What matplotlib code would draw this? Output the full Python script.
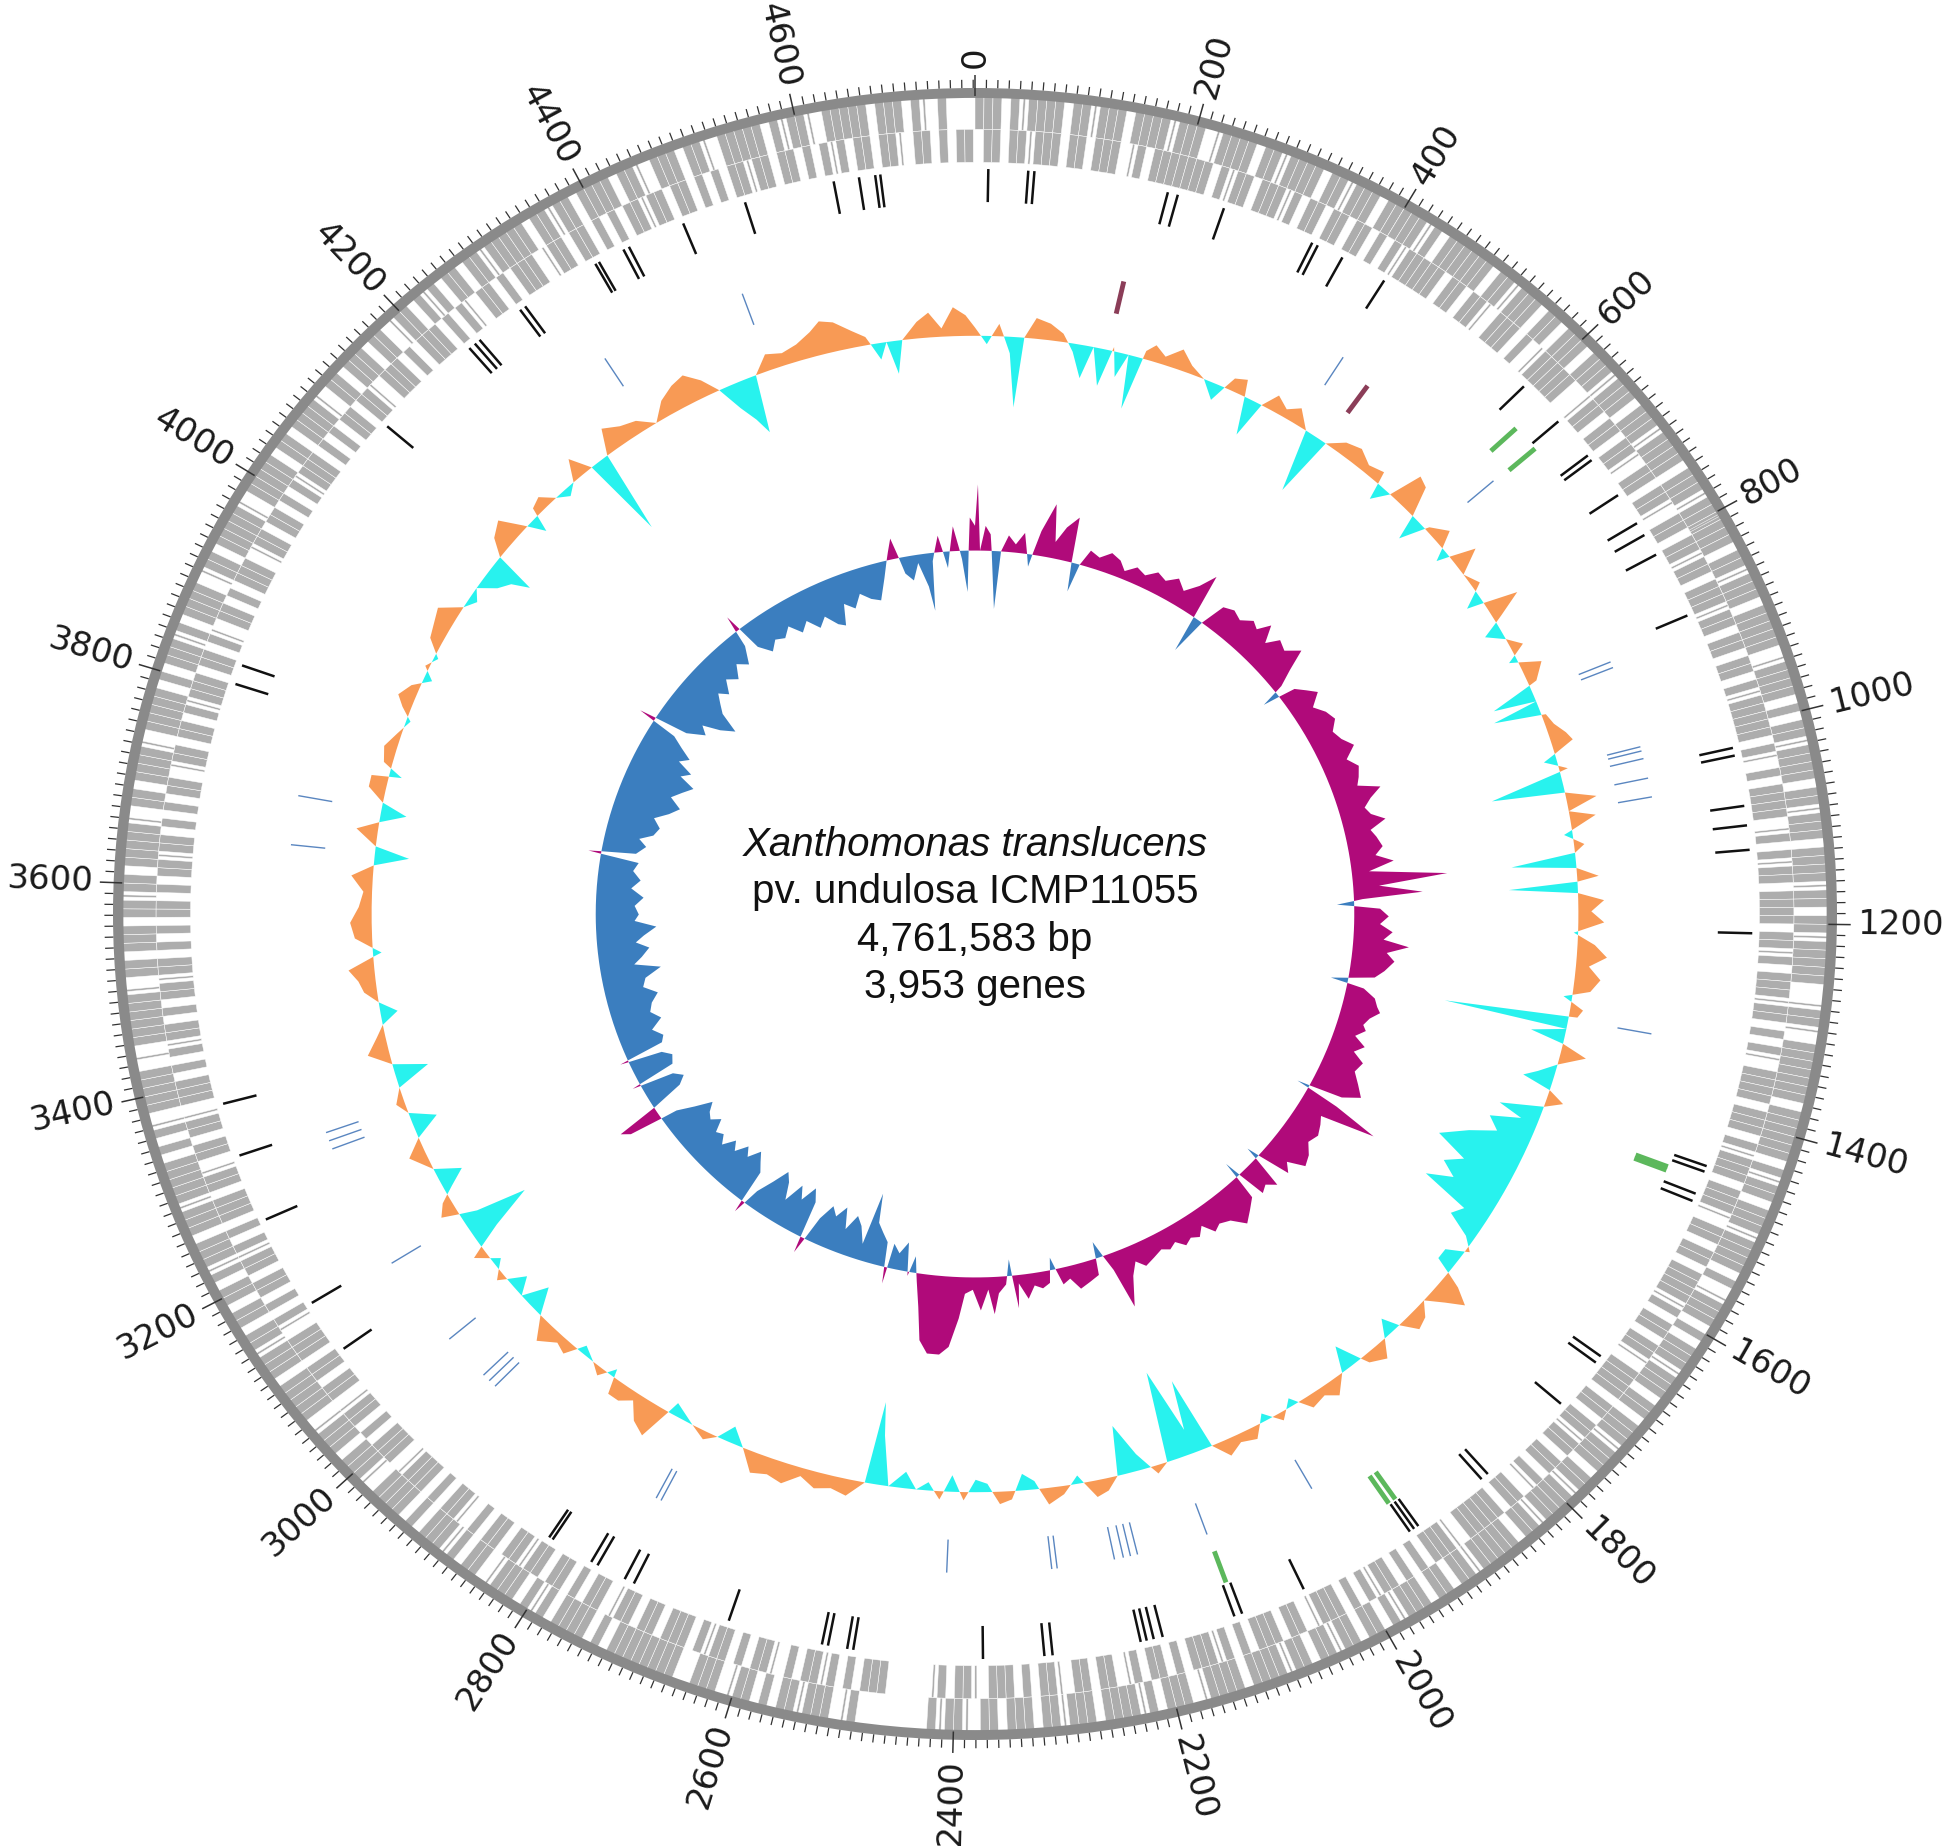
#!/usr/bin/env python3
"""Circular genome map of Xanthomonas translucens pv. undulosa ICMP11055."""
import numpy as np
import matplotlib
matplotlib.use("Agg")
import matplotlib.pyplot as plt
from matplotlib.patches import Wedge
from matplotlib.collections import PatchCollection, LineCollection

GENOME_KB = 4761.583

# ---- data (positions in kb) ----
label_kb = list(range(0, 4601, 200))

# CDS occupancy, one char per 8 kb cell, one string per 200 kb
# '#' gene block, '|' thin gene, '.' empty
cds_outer = [
    "###.# |####. ##|## #.### #|###",
    "..|## ##.## |####. ##|## #.###",
    "###|# .#### ##.## |###. ##.##",
    "#.### |###.# ##|## ##.## #|###",
    "|###. ##|## #.### ##.|# ###.#",
    ".##|# ###.# #|### .#### |##.#",
    "#|### ##..| ##|.# ##### #.###",
    "###.# |##.# ##|## ##.#. |###.",
    "#.### |###. ##.## #|### .##|#",
    "###|# #.### ##|## .##.# ##|#.",
    "##.## |##.# #|### #.### #|.##",
    "#.#|# ###.# ##|## .###. ##.|#",
    "#|#.. ..... .#|.# ##|## .#.##",
    "|.### ..### ##### .#.## ##.#|",
    "#.### |.##. #|### .#.## ##.|#",
    "##.## #|.## ###.# ##|## .##.#",
    "#.#|# ##.## #|### ##.#. #|.##",
    "###.| .#### ##|.# #.### .##|#",
    "#.### ##|.# #.### #|.## ###.#",
    ".###| #.### #.|## .#### #|.##",
    "###.# #.### #|.## .###. ##.|#",
    "#.#|# .##.# #|### ##.## |##.#",
    "###.# #|.## #.##| .#### #.#|#",
    "#|.## ###.# ##.#| .#",
]
cds_inner = [
    ".##.# #|### .##.# ##.|# .####",
    "###.# |##.# ##|#. ##.## .##.#",
    ".#|## ###.# #.##| .###. #.|##",
    "###.. |##.# #.##| .##.# #|.##",
    ".##|# #.### |##.# #.##. #|###",
    "##.#| .#.## ##.|# .#|## .####",
    ".##|# .###| ##.#. #|.## ##.##",
    "#.#|# ##.## #|.## .##.# ###|#",
    ".##.# #|.## ##.## .##|# #.##.",
    "#|.## .#### #.|## #.#.# .##|#",
    ".#.## #|.## .###. #.#|# ##.#.",
    "##.#| .##.# #.|## .#.## #.|##",
    ".#|.. ...## #.#.# |##.# .|##.",
    "#.##| #.### .##.# #|.## .#.##",
    ".##|# #.##. #.|## .#.## #|.##",
    "#.#.# #|.## .##.# ##.|# .#.##",
    ".##|# .#.## #.##| .##.# #|.##",
    "#.#.# |##.# .##|# #.#.# .##.#",
    ".##|# #.#.# .##.| ##.## .#|##",
    "#.##. #|.## .#.## #.|## .##.#",
    ".#|## #.#.# .##.# #|.## #.#.#",
    "##.#. #|.## .#.## #.|## .##.#",
    ".#.## |##.# #.#.# .##|# #.##.",
    "#.#|# .##.# #|.## .#.##",
]

black_kb = [13, 52, 58, 190, 200, 247, 340, 346, 373, 420, 594, 643, 688, 694,
            738, 772, 786, 809, 878, 1020, 1028, 1080, 1100, 1125, 1210, 1452,
            1458, 1482, 1490, 1672, 1680, 1734, 1835, 1843, 1921, 1926, 1931,
            2050, 2115, 2123, 2196, 2205, 2212, 2218, 2305, 2313, 2373, 2500,
            2506, 2525, 2531, 2625, 2725, 2735, 2765, 2772, 2816, 2820, 3099,
            3155, 3251, 3321, 3376, 3809, 3829, 4112, 4225, 4232, 4238, 4288,
            4294, 4375, 4379, 4406, 4412, 4470, 4534, 4623, 4648, 4664, 4669]
blue_kb = [428, 647, 893, 900, 996, 1001, 1010, 1033, 1055, 1329, 1993, 2120,
           2200, 2208, 2216, 2226, 2290, 2296, 2412, 2740, 2746, 2966, 2975,
           2984, 3040, 3148, 3295, 3305, 3315, 3651, 3708, 4331, 4500]
green_kb = [620, 649, 1466, 1470, 1924, 1932, 2119]
maroon_kb = [168, 469]

# GC content deviation (kb, deviation in radius units)
gc_content = [
    (0, 0.01), (15, -0.01), (30, 0.015), (45, -0.02), (55, -0.085), (62, 0.0),
    (75, 0.025), (93, 0.02), (110, 0.01), (125, -0.01), (140, -0.04), (150, 0.0),
    (165, -0.045), (175, 0.005), (185, -0.03), (195, 0.0), (205, -0.065),
    (215, 0.01), (225, 0.02), (240, 0.01), (258, 0.025), (275, 0.01), (295, 0.0),
    (314, -0.02), (330, 0.015), (345, 0.02), (365, -0.045), (375, 0.0),
    (388, 0.02), (405, 0.01), (420, 0.02), (440, 0.0), (460, -0.075), (470, 0.0),
    (490, 0.015), (510, 0.02), (530, 0.01), (550, 0.015), (560, -0.02),
    (575, 0.0), (586, 0.04), (600, 0.035), (615, 0.0), (625, -0.03), (640, 0.005),
    (660, 0.02), (680, -0.015), (697, 0.03), (715, 0.0), (735, 0.01),
    (755, -0.02), (770, 0.04), (785, 0.01), (800, -0.02), (815, 0.0),
    (830, 0.015), (845, -0.01), (860, 0.025), (880, 0.01), (897, -0.05),
    (905, 0.0), (913, -0.055), (925, 0.005), (940, 0.01), (955, 0.02),
    (966, 0.025), (985, -0.015), (1000, 0.01), (1021, -0.085), (1030, 0.0),
    (1042, 0.035), (1055, 0.0), (1065, 0.03), (1085, -0.01), (1100, 0.012),
    (1110, 0.0), (1122, -0.075), (1130, 0.0), (1142, 0.025), (1148, 0.0),
    (1155, -0.08), (1163, 0.0), (1173, 0.03), (1187, 0.015), (1201, 0.03),
    (1215, -0.005), (1230, 0.02), (1245, 0.035), (1258, 0.015), (1274, 0.03),
    (1290, 0.02), (1300, -0.01), (1315, 0.015), (1325, 0.01), (1334, -0.145),
    (1342, 0.0), (1352, -0.04), (1362, 0.0), (1374, 0.03), (1390, 0.0),
    (1405, -0.02), (1415, -0.035), (1425, 0.0), (1437, 0.02), (1448, 0.0),
    (1462, -0.05), (1472, -0.02), (1484, -0.055), (1500, -0.04), (1515, -0.07),
    (1537, -0.1), (1555, -0.06), (1570, -0.08), (1585, -0.06), (1600, -0.09),
    (1615, -0.03), (1630, -0.04), (1645, -0.01), (1660, 0.005), (1675, -0.02),
    (1690, -0.02), (1705, 0.02), (1717, 0.04), (1730, 0.02), (1745, 0.0),
    (1760, 0.015), (1776, 0.02), (1790, 0.0), (1800, -0.02), (1815, 0.0),
    (1830, 0.02), (1850, 0.01), (1870, -0.03), (1885, 0.0), (1905, 0.02),
    (1920, 0.01), (1940, 0.015), (1960, -0.01), (1980, 0.01), (2000, -0.01),
    (2020, 0.015), (2040, 0.01), (2058, 0.02), (2075, 0.0), (2090, -0.09),
    (2100, -0.03), (2120, -0.11), (2135, 0.0), (2150, 0.01), (2170, -0.02),
    (2190, -0.06), (2200, 0.0), (2215, 0.015), (2230, 0.02), (2250, -0.01),
    (2270, 0.01), (2290, 0.02), (2305, -0.01), (2320, -0.02), (2335, 0.01),
    (2350, 0.015), (2365, -0.01), (2380, -0.015), (2395, 0.01), (2410, -0.02),
    (2425, 0.01), (2440, -0.01), (2455, 0.0), (2470, -0.02), (2490, 0.0),
    (2505, -0.06), (2512, -0.10), (2520, 0.0), (2540, 0.02), (2560, 0.015),
    (2580, 0.02), (2600, 0.01), (2620, 0.025), (2640, 0.02), (2660, 0.025),
    (2680, 0.0), (2700, -0.02), (2715, 0.0), (2730, 0.01), (2750, 0.0),
    (2780, -0.015), (2797, 0.04), (2815, 0.03), (2830, 0.01), (2845, 0.02),
    (2860, 0.02), (2870, -0.01), (2885, 0.01), (2900, 0.0), (2920, -0.01),
    (2935, 0.015), (2950, 0.01), (2970, 0.025), (2990, 0.0), (3010, -0.03),
    (3025, 0.0), (3040, -0.02), (3060, 0.01), (3080, -0.01), (3100, 0.015),
    (3120, -0.03), (3140, -0.08), (3150, -0.02), (3165, 0.02), (3180, 0.01),
    (3195, -0.01), (3210, -0.03), (3225, 0.0), (3250, 0.02), (3270, 0.0),
    (3290, -0.03), (3305, 0.0), (3320, 0.01), (3340, 0.0), (3360, -0.04),
    (3372, 0.0), (3390, 0.025), (3410, 0.01), (3425, 0.0), (3440, -0.02),
    (3455, 0.0), (3470, 0.015), (3485, 0.02), (3500, 0.03), (3520, -0.01),
    (3540, 0.02), (3560, 0.025), (3580, 0.015), (3600, 0.01), (3620, 0.025),
    (3635, 0.0), (3648, -0.04), (3660, 0.0), (3680, 0.025), (3692, 0.0),
    (3705, -0.03), (3718, 0.0), (3735, 0.02), (3750, 0.02), (3755, -0.015),
    (3770, 0.01), (3790, 0.015), (3810, 0.005), (3830, -0.005), (3845, 0.01),
    (3858, 0.02), (3875, 0.01), (3890, -0.01), (3905, 0.005), (3920, -0.005),
    (3940, 0.015), (3960, 0.02), (3978, 0.025), (3995, 0.0), (4010, -0.01),
    (4025, 0.0), (4040, -0.02), (4055, -0.03), (4066, -0.05), (4075, 0.0),
    (4090, 0.02), (4110, 0.03), (4125, 0.005), (4140, -0.02), (4150, 0.01),
    (4165, 0.015), (4180, 0.0), (4195, -0.01), (4210, 0.0), (4225, 0.025),
    (4240, 0.0), (4250, -0.10), (4265, 0.0), (4280, 0.03), (4300, 0.02),
    (4320, 0.015), (4340, 0.0), (4360, 0.02), (4380, 0.03), (4398, 0.035),
    (4415, 0.02), (4430, 0.0), (4445, -0.03), (4458, -0.05), (4468, -0.07),
    (4480, 0.0), (4500, 0.02), (4520, 0.015), (4540, 0.02), (4560, 0.03),
    (4574, 0.04), (4590, 0.035), (4610, 0.02), (4625, 0.01), (4640, -0.02),
    (4650, 0.0), (4660, -0.04), (4670, 0.0), (4690, 0.02), (4705, 0.03),
    (4720, 0.01), (4735, 0.035), (4750, 0.025),
]

# GC skew (kb, skew in radius units)
gc_skew = [
    (0, 0.03), (5, 0.08), (10, 0.0), (20, 0.03), (30, 0.02), (45, -0.07),
    (52, 0.0), (65, 0.02), (80, 0.01), (95, 0.025), (110, -0.015), (125, 0.03),
    (143, 0.065), (155, 0.02), (170, 0.04), (188, 0.055), (195, 0.0),
    (203, -0.035), (212, 0.0), (225, 0.02), (245, 0.015), (265, 0.025),
    (285, 0.02), (300, 0.01), (320, 0.02), (340, 0.015), (360, 0.025),
    (380, 0.02), (400, 0.03), (420, 0.02), (440, 0.035), (456, 0.055),
    (466, 0.0), (476, -0.045), (486, 0.0), (500, 0.03), (520, 0.035),
    (540, 0.03), (560, 0.04), (575, 0.035), (589, 0.05), (605, 0.03),
    (620, 0.045), (640, 0.04), (660, 0.055), (675, 0.03), (690, 0.01),
    (700, -0.02), (710, 0.02), (725, 0.03), (740, 0.04), (760, 0.025),
    (780, 0.035), (800, 0.04), (820, 0.03), (840, 0.035), (860, 0.045),
    (880, 0.03), (900, 0.04), (920, 0.035), (935, 0.03), (950, 0.055),
    (965, 0.04), (980, 0.03), (995, 0.035), (1010, 0.05), (1025, 0.03),
    (1040, 0.035), (1060, 0.04), (1075, 0.03), (1090, 0.05), (1105, 0.02),
    (1122, 0.11), (1135, 0.03), (1151, 0.08), (1160, 0.01), (1170, -0.02),
    (1180, 0.03), (1195, 0.04), (1210, 0.03), (1225, 0.045), (1240, 0.035),
    (1251, 0.065), (1265, 0.04), (1280, 0.05), (1300, 0.04), (1315, 0.03),
    (1330, -0.02), (1340, 0.02), (1355, 0.035), (1370, 0.04), (1380, 0.045),
    (1395, 0.035), (1410, 0.03), (1420, 0.035), (1435, 0.025), (1450, 0.04),
    (1465, 0.03), (1480, 0.045), (1500, 0.04), (1520, 0.05), (1540, 0.06),
    (1555, 0.04), (1565, -0.015), (1575, 0.04), (1590, 0.095), (1605, 0.03),
    (1620, 0.035), (1640, 0.04), (1660, 0.035), (1680, 0.045), (1700, 0.05),
    (1715, 0.03), (1730, 0.04), (1745, -0.015), (1760, 0.04), (1775, 0.03),
    (1790, 0.035), (1800, -0.02), (1810, 0.03), (1830, 0.04), (1850, 0.05),
    (1870, 0.035), (1890, 0.03), (1905, 0.035), (1920, 0.02), (1935, 0.03),
    (1950, 0.025), (1965, 0.03), (1980, 0.02), (1995, 0.025), (2010, 0.02),
    (2030, 0.025), (2050, 0.03), (2065, 0.02), (2080, 0.035), (2099, 0.07),
    (2110, 0.02), (2130, -0.02), (2140, 0.02), (2160, 0.025), (2180, 0.03),
    (2195, 0.015), (2210, 0.02), (2225, -0.015), (2235, 0.015), (2250, 0.02),
    (2265, 0.015), (2280, 0.03), (2295, 0.01), (2300, 0.04), (2310, -0.02),
    (2320, 0.01), (2335, 0.02), (2345, 0.045), (2355, 0.015), (2370, 0.04),
    (2385, 0.015), (2400, 0.02), (2410, 0.05), (2425, 0.085), (2440, 0.095),
    (2460, 0.095), (2475, 0.08), (2485, 0.04), (2495, 0.01), (2505, -0.02),
    (2515, 0.005), (2525, -0.035), (2540, -0.02), (2555, -0.03), (2560, 0.02),
    (2570, -0.03), (2585, -0.04), (2600, -0.05), (2612, -0.085), (2620, -0.02),
    (2635, -0.04), (2650, -0.05), (2665, -0.03), (2680, -0.055), (2695, -0.04),
    (2710, -0.05), (2725, -0.03), (2740, 0.02), (2750, -0.045), (2765, -0.06),
    (2780, -0.04), (2795, -0.055), (2810, -0.03), (2825, -0.05), (2840, -0.06),
    (2855, -0.04), (2870, -0.02), (2880, 0.015), (2890, -0.04), (2905, -0.05),
    (2920, -0.06), (2935, -0.045), (2950, -0.055), (2965, -0.04), (2980, -0.05),
    (2995, -0.035), (3010, -0.045), (3025, -0.04), (3040, -0.055),
    (3055, -0.045), (3070, -0.05), (3085, -0.06), (3100, -0.04), (3115, -0.02),
    (3125, 0.04), (3135, 0.05), (3145, 0.0), (3160, -0.04), (3175, -0.05),
    (3190, -0.04), (3200, 0.01), (3210, -0.045), (3230, -0.05), (3245, -0.04),
    (3255, 0.01), (3265, -0.045), (3280, -0.05), (3300, -0.04), (3320, -0.055),
    (3340, -0.045), (3360, -0.05), (3380, -0.06), (3400, -0.045), (3420, -0.05),
    (3440, -0.07), (3455, -0.04), (3470, -0.05), (3490, -0.06), (3505, -0.045),
    (3520, -0.055), (3540, -0.07), (3555, -0.045), (3570, -0.05),
    (3590, -0.045), (3610, -0.055), (3630, -0.04), (3650, -0.05), (3670, -0.04),
    (3690, -0.045), (3700, 0.015), (3710, -0.04), (3730, -0.05), (3745, -0.04),
    (3760, -0.055), (3780, -0.06), (3800, -0.05), (3820, -0.065),
    (3840, -0.075), (3860, -0.06), (3880, -0.07), (3900, -0.08), (3915, -0.06),
    (3930, -0.07), (3945, -0.05), (3960, -0.06), (3975, -0.045), (3990, -0.03),
    (4000, 0.02), (4010, -0.04), (4030, -0.06), (4045, -0.05), (4060, -0.07),
    (4080, -0.085), (4095, -0.06), (4110, -0.05), (4125, -0.04), (4140, -0.05),
    (4160, -0.035), (4180, -0.045), (4200, -0.03), (4220, -0.04), (4240, -0.02),
    (4250, 0.02), (4260, -0.03), (4280, -0.045), (4300, -0.035), (4320, -0.04),
    (4340, -0.03), (4360, -0.045), (4380, -0.035), (4400, -0.05), (4420, -0.04),
    (4440, -0.055), (4455, -0.06), (4470, -0.035), (4490, -0.045),
    (4510, -0.03), (4530, -0.04), (4550, -0.045), (4570, -0.02), (4590, 0.01),
    (4600, 0.025), (4615, -0.02), (4630, -0.03), (4645, -0.01), (4660, -0.04),
    (4667, -0.07), (4675, -0.01), (4690, 0.02), (4705, -0.02), (4720, 0.03),
    (4735, -0.01), (4745, -0.05), (4752, 0.04),
]

title_lines = ["Xanthomonas translucens", "pv. undulosa ICMP11055",
               "4,761,583 bp", "3,953 genes"]

# ---- colours ----
RING = "#8a8a8a"
GENE = "#adadad"
GC_POS, GC_NEG = "#f89a55", "#28f2ee"
SKEW_POS, SKEW_NEG = "#b00a7a", "#3b7ebf"

# ---- figure: circle is stretched a little wider than tall, like the source ----
W, H = 1950, 1846
CX, CY, RX, RY = 975, 914, 862, 826
fig = plt.figure(figsize=(W / 100, H / 100), dpi=100)
ax = fig.add_axes([0, 0, 1, 1])
ax.set_xlim(-CX / RX, (W - CX) / RX)
ax.set_ylim(-(H - CY) / RY, CY / RY)
ax.axis("off")


def deg(kb):
    return np.asarray(kb, float) / GENOME_KB * 360.0


def wedge(kb0, kb1, r_out, width):
    return Wedge((0, 0), r_out, 90 - deg(kb1), 90 - deg(kb0), width=width)


def radial(kbs, r0, r1):
    a = np.deg2rad(deg(kbs))
    return [[(r0 * np.sin(t), r0 * np.cos(t)), (r1 * np.sin(t), r1 * np.cos(t))] for t in a]


# CDS tracks (drawn first so the ring sits on top)
patches = []
for chunks, r_out in ((cds_outer, 0.990), (cds_inner, 0.950)):
    for i, chunk in enumerate(chunks):
        cells = chunk.replace(" ", "")
        for j, ch in enumerate(cells):
            s = i * 200 + j * 8
            if s >= GENOME_KB:
                continue
            if ch == "#":
                patches.append(wedge(s, min(s + 8, GENOME_KB), r_out, 0.040))
            elif ch == "|":
                patches.append(wedge(s + 3, s + 5, r_out, 0.040))
ax.add_collection(PatchCollection(patches, facecolor=GENE, edgecolor="white", linewidth=0.35))

# outer ring
ax.add_patch(Wedge((0, 0), 1.0, 0, 360, width=0.012, facecolor=RING, edgecolor="none"))

# ticks every 10 kb, longer every 200 kb
tick_kb = np.arange(0, GENOME_KB, 10)
minor = [k for k in tick_kb if k % 200 != 0]
major = [k for k in tick_kb if k % 200 == 0]
ax.add_collection(LineCollection(radial(minor, 1.0, 1.010), colors="#333333", linewidths=0.9))
ax.add_collection(LineCollection(radial(major, 0.99, 1.016), colors="#333333", linewidths=1.1))

# tick labels
for kb in label_kb:
    t = np.deg2rad(deg(kb))
    x, y = 1.024 * np.sin(t), 1.024 * np.cos(t)
    disp = np.degrees(np.arctan2(np.cos(t) * RY, np.sin(t) * RX))
    if deg(kb) <= 180:
        rot, ha = disp, "left"
    else:
        rot, ha = disp + 180, "right"
    ax.text(x, y, str(kb), rotation=rot, rotation_mode="anchor", ha=ha, va="center",
            fontsize=24.5, color="#1a1a1a", family="DejaVu Sans")

# feature tracks
ax.add_collection(LineCollection(radial(black_kb, 0.862, 0.902), colors="#111111", linewidths=1.8))
ax.add_collection(LineCollection(radial(green_kb, 0.820, 0.860), colors="#5cb85c", linewidths=3.5))
ax.add_collection(LineCollection(radial(blue_kb, 0.758, 0.798), colors="#5a86c0", linewidths=1.0))
ax.add_collection(LineCollection(radial(maroon_kb, 0.745, 0.785), colors="#8b3d58", linewidths=3.5))


def ring_plot(pairs, base, pos_color, neg_color):
    pairs = sorted(pairs)
    kb = np.array([p[0] for p in pairs] + [pairs[0][0] + GENOME_KB], float)
    v = np.array([p[1] for p in pairs] + [pairs[0][1]], float)
    K, V = [kb[0]], [v[0]]
    for i in range(1, len(kb)):
        if v[i - 1] * v[i] < 0:
            f = v[i - 1] / (v[i - 1] - v[i])
            K.append(kb[i - 1] + f * (kb[i] - kb[i - 1]))
            V.append(0.0)
        K.append(kb[i])
        V.append(v[i])
    a = np.deg2rad(deg(K))
    V = np.array(V)
    for part, col in ((np.maximum(V, 0), pos_color), (np.minimum(V, 0), neg_color)):
        r = base + part
        xs = np.concatenate([r * np.sin(a), base * np.sin(a[::-1])])
        ys = np.concatenate([r * np.cos(a), base * np.cos(a[::-1])])
        ax.fill(xs, ys, color=col, lw=0)


ring_plot(gc_content, 0.70, GC_POS, GC_NEG)
ring_plot(gc_skew, 0.44, SKEW_POS, SKEW_NEG)

# centre title
for k, (line, py) in enumerate(zip(title_lines, [856, 903, 951, 998])):
    ax.text(0, (CY - py) / RY, line, ha="center", va="baseline", fontsize=29,
            family="Liberation Sans", style="italic" if k == 0 else "normal", color="#111111")

fig.savefig("out.png", dpi=100, facecolor="white")
